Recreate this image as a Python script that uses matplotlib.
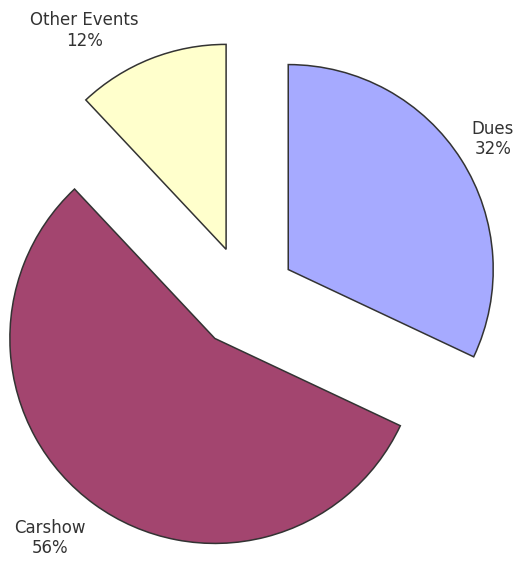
import matplotlib.pyplot as plt

# Slice data (clockwise from 12 o'clock)
categories = ["Dues", "Carshow", "Other Events"]
shares = [32, 56, 12]
colors = ["#a6aaff", "#a3456f", "#ffffcc"]

fig = plt.figure(figsize=(5.17, 5.61), dpi=100)
ax = fig.add_axes([0, 0, 1, 1])

wedges, _ = ax.pie(shares, colors=colors, startangle=90, counterclock=False,
                   explode=[0.25] * len(shares), radius=1.0,
                   wedgeprops=dict(edgecolor="#333333", linewidth=1.1))

# label positions (data units, pie radius = 1)
label_pos = [(1.21, 0.77), (-0.95, -1.175), (-0.785, 1.30)]
for name, val, (x, y) in zip(categories, shares, label_pos):
    ax.text(x, y, f"{name}\n{val}%", ha="center", va="center",
            fontsize=12, color="#333333", linespacing=1.15)

ax.set_xlim(-1.195, 1.327)
ax.set_ylim(-1.288, 1.449)
ax.set_aspect("equal")
ax.axis("off")

fig.savefig("out.png", dpi=100)
